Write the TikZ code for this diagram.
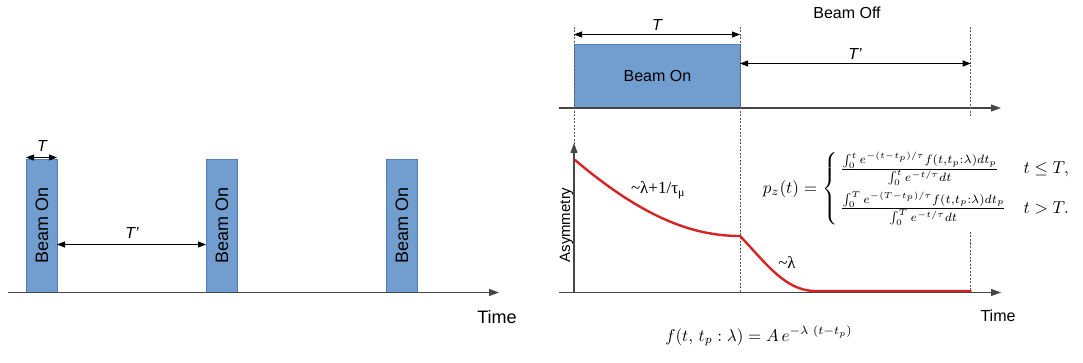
\documentclass[tikz,border=0pt]{standalone}
\usepackage{amsmath}
\usepackage{fontspec}
\setmainfont{Liberation Sans}
\newfontfamily\serifTNR{Liberation Serif}
\usetikzlibrary{arrows.meta}
\definecolor{boxblue}{RGB}{114,158,207}
\definecolor{boxedge}{RGB}{84,125,185}
\definecolor{axisgray}{RGB}{70,70,70}
\definecolor{curvered}{RGB}{214,36,36}
\begin{document}
\begin{tikzpicture}[x=1pt,y=-1pt,
  beambox/.style={fill=boxblue, draw=boxedge, line width=0.8pt, inner sep=0pt, rectangle},
  axisline/.style={draw=axisgray, line width=1.2pt, -{Triangle[length=10pt,width=7pt]}},
  dimarrow/.style={draw=black, line width=0.9pt, {Triangle[length=8pt,width=6pt]}-{Triangle[length=8pt,width=6pt]}},
  guide/.style={draw=gray!70!black, line width=0.7pt, dash pattern=on 2pt off 1.5pt},
  biglbl/.style={font=\fontsize{18}{21}\selectfont, inner sep=0pt},
  midlbl/.style={font=\fontsize{16}{19}\selectfont, inner sep=0pt},
  itlbl/.style={font=\fontsize{16}{19}\selectfont\itshape, inner sep=0pt},
  serlbl/.style={font=\serifTNR\fontsize{17}{20}\selectfont, inner sep=0pt},
  redcurve/.style={draw=curvered, line width=2.4pt, line cap=round, line join=round}
]
\useasboundingbox (0,0) rectangle (1083,363);

% ---------------- left panel ----------------
\coordinate (la0) at (8,292.5);
\coordinate (la1) at (499,292.5);
\node[beambox, minimum width=31pt, minimum height=132.5pt, anchor=south west] (b1) at (26,292.5) {};
\node[beambox, minimum width=31pt, minimum height=132.5pt, anchor=south west] (b2) at (206,292.5) {};
\node[beambox, minimum width=31pt, minimum height=132.5pt, anchor=south west] (b3) at (386,292.5) {};
\node[biglbl, rotate=90] (b1t) at (b1.center) {Beam On};
\node[biglbl, rotate=90] (b2t) at (b2.center) {Beam On};
\node[biglbl, rotate=90] (b3t) at (b3.center) {Beam On};
\draw[axisline] (la0) -- (la1);
\node[biglbl] (ltime) at (497,317) {Time};
\coordinate (tA) at (26,157.5);
\coordinate (tB) at (57,157.5);
\draw[dimarrow] (tA) -- (tB);
\node[itlbl] (lT) at (42,146) {T};
\coordinate (tpA) at (57,244.5);
\coordinate (tpB) at (206,244.5);
\draw[dimarrow] (tpA) -- (tpB);
\node[itlbl] (lTp) at (132,233) {T'};

% ---------------- right panel, top ----------------
\node[beambox, minimum width=166pt, minimum height=63pt, anchor=south west] (r1) at (574,108) {};
\node[midlbl] (r1t) at (r1.center) {Beam On};
\coordinate (ta0) at (559,108);
\coordinate (ta1) at (1001,108);
\draw[axisline] (ta0) -- (ta1);
\coordinate (g1top) at (574,27);
\coordinate (g1bot) at (574,292.5);
\coordinate (g2top) at (740,27);
\coordinate (g2bot) at (740,292.5);
\coordinate (g3top) at (970.7,27);
\coordinate (g3bot) at (970.7,117);
\coordinate (g4top) at (970.7,232);
\coordinate (g4bot) at (970.7,292.5);
\draw[guide] (g1top) -- (g1bot);
\draw[guide] (g2top) -- (g2bot);
\draw[guide] (g3top) -- (g3bot);
\draw[guide] (g4top) -- (g4bot);
\coordinate (rtA) at (574,34.5);
\coordinate (rtB) at (740,34.5);
\draw[dimarrow] (rtA) -- (rtB);
\node[itlbl] (rT) at (657,25) {T};
\node[midlbl] (off) at (847,13) {Beam Off};
\coordinate (rtpA) at (740,63.5);
\coordinate (rtpB) at (970.7,63.5);
\draw[dimarrow] (rtpA) -- (rtpB);
\node[itlbl] (rTp) at (855,54) {T'};

% ---------------- right panel, bottom ----------------
\coordinate (ba0) at (559,292.5);
\coordinate (ba1) at (1001,292.5);
\coordinate (va0) at (574,292.5);
\coordinate (va1) at (574,143);
\draw[axisline] (ba0) -- (ba1);
\draw[axisline] (va0) -- (va1);
\node[font=\fontsize{15}{18}\selectfont, inner sep=0pt, rotate=90] (asym) at (566.5,225) {Asymmetry};
\node[midlbl] (rtime) at (998,316) {Time};
\draw[redcurve] (575,160) .. controls (640,215) and (690,236) .. (740,236)
  .. controls (765,262) and (785,291) .. (815,291) -- (970.7,291);
\node[serlbl] (l1) at (658,190) {\textasciitilde λ+1/τ\textsubscript{μ}};
\node[serlbl] (l2) at (787,263) {\textasciitilde λ};

\node[scale=1.72, inner sep=0pt] (pz) at (917,189) {$p_z(t) = \begin{cases}
 \,\frac{\int_0^t e^{-(t-t_p)/\tau} f(t,t_p:\lambda)dt_p}{\int_0^t e^{-t/\tau} dt} & t \le T,\\[6pt]
 \,\frac{\int_0^T e^{-(T-t_p)/\tau} f(t,t_p:\lambda)dt_p}{\int_0^T e^{-t/\tau} dt} & t > T.
\end{cases}$};
\node[scale=1.7, inner sep=0pt] (fx) at (759,336) {$f(t,\, t_p : \lambda) = A\, e^{-\lambda\ (t-t_p)}$};
\end{tikzpicture}
\end{document}
